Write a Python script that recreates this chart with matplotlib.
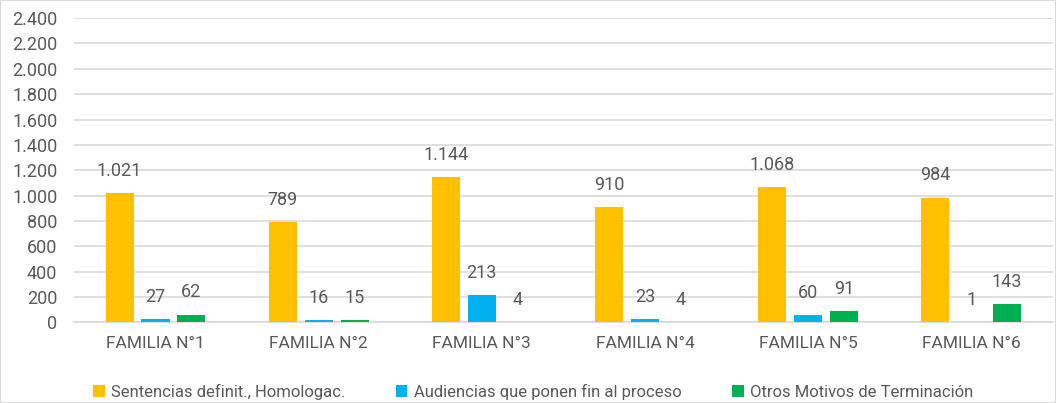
import numpy as np
import matplotlib.pyplot as plt
from matplotlib.ticker import FuncFormatter
from matplotlib import font_manager

# data
familias = ["FAMILIA N°1", "FAMILIA N°2", "FAMILIA N°3", "FAMILIA N°4", "FAMILIA N°5", "FAMILIA N°6"]
sentencias = [1021, 789, 1144, 910, 1068, 984]
audiencias = [27, 16, 213, 23, 60, 1]
otros = [62, 15, 4, 4, 91, 143]
series_names = ["Sentencias definit., Homologac.", "Audiencias que ponen fin al proceso",
                "Otros Motivos de Terminación"]
colores = ["#FFC000", "#00B0F0", "#00B050"]

names = {f.name for f in font_manager.fontManager.ttflist}
fam = "Liberation Sans Narrow" if "Liberation Sans Narrow" in names else "Roboto"
plt.rcParams['font.family'] = [fam, 'DejaVu Sans']
gris = "#595959"


def miles(v):
    return f"{int(v):,}".replace(",", ".")


fig = plt.figure(figsize=(10.56, 4.03), dpi=100)
ax = fig.add_axes([0.07, 0.2, 0.927, 0.755])

x = np.arange(len(familias))
w = 0.172
paso = 0.22
for i, (vals, nombre) in enumerate(zip([sentencias, audiencias, otros], series_names)):
    pos = x + (i - 1) * paso
    ax.bar(pos, vals, width=w, color=colores[i], label=nombre, zorder=3)
    for p, v in zip(pos, vals):
        ax.annotate(miles(v), (p, v), xytext=(0, 9.5), textcoords="offset points",
                    ha="center", va="bottom", fontsize=13, color=gris)

ax.set_ylim(0, 2400)
ax.set_yticks(np.arange(0, 2401, 200))
ax.yaxis.set_major_formatter(FuncFormatter(lambda v, p: miles(v)))
ax.set_xlim(-0.5, len(familias) - 0.5)
ax.set_xticks(x)
ax.set_xticklabels(familias)
ax.grid(axis="y", color="#D9D9D9", linewidth=1.2, zorder=0)
for s in ["top", "right", "left"]:
    ax.spines[s].set_visible(False)
ax.spines["bottom"].set_color("#D9D9D9")
ax.spines["bottom"].set_linewidth(1.2)
ax.tick_params(axis="y", length=0, labelsize=13, colors=gris, pad=12)
ax.tick_params(axis="x", length=0, labelsize=12.5, colors=gris, pad=10)

fig.legend(loc="lower center", bbox_to_anchor=(0.505, -0.03), ncol=3, frameon=False,
           fontsize=12, labelcolor=gris, handlelength=0.7, handleheight=0.7,
           handletextpad=0.4, columnspacing=3.0)

fig.patches.append(plt.Rectangle((0, 0), 1, 1, transform=fig.transFigure,
                                 fill=False, edgecolor="#D9D9D9", linewidth=1.5))
fig.savefig("out.png", dpi=100)
